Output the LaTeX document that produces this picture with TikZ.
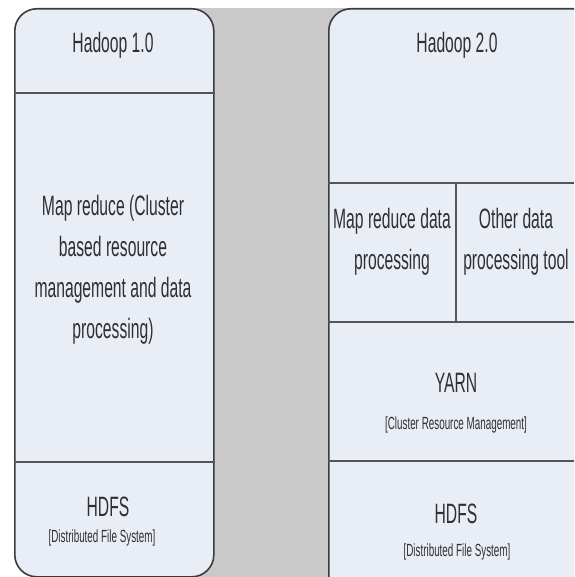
\documentclass[tikz,border=0pt]{standalone}
\usepackage{fontspec}
\setmainfont[FakeStretch=0.56]{Liberation Sans}
\usetikzlibrary{positioning, calc}
\definecolor{cpanel}{HTML}{E9EEF6}
\definecolor{cgap}{HTML}{C9C9C9}
\definecolor{cline}{HTML}{3C3C3C}
\definecolor{csep}{HTML}{555555}
\definecolor{ctext}{HTML}{303030}
\tikzset{
  every picture/.style={x=1pt, y=-1pt},
  frame/.style={draw=cline, fill=cpanel, rounded corners=22pt, line width=1.6pt, anchor=north west, inner sep=0pt},
  sep/.style={draw=csep, line width=2.4pt},
  label/.style={text=ctext, align=center, inner sep=0pt, font=\fontsize{28}{41}\selectfont},
  sub/.style={text=ctext, align=center, inner sep=0pt, font=\fontsize{17.6}{20}\selectfont},
}
\begin{document}
\begin{tikzpicture}
  \clip (0,0) rectangle (574,577);
  \fill[white] (0,0) rectangle (574,577);
  \fill[cgap] (150,8) rectangle (400,577);
  % the two versions
  \node[frame, minimum width=199pt, minimum height=568pt] (v1) at (14,8) {};
  \node[frame, minimum width=300pt, minimum height=620pt] (v2) at (328,8) {};
  % Hadoop 1.0 layers
  \draw[sep] (v1.west |- 0,93) -- (v1.east |- 0,93);
  \draw[sep] (v1.west |- 0,462) -- (v1.east |- 0,462);
  \node[label] (t1) at (113,45) {Hadoop 1.0};
  \node[label] (mr1) at (113,270) {Map reduce (Cluster\\based resource\\management and data\\processing)};
  \node[label] (hdfs1) at (108,507) {HDFS};
  \node[sub] (dfs1) at (102,538) {[Distributed File System]};
  % Hadoop 2.0 layers
  \coordinate (top) at (456,183);
  \coordinate (mid) at (456,322);
  \draw[sep] (v2.west |- top) -- (574,183);
  \draw[sep] (v2.west |- mid) -- (574,322);
  \draw[sep] (v2.west |- 0,461) -- (574,461);
  \draw[sep] (top) -- (mid);
  \node[label] (t2) at (457,45) {Hadoop 2.0};
  \node[label] (mr2) at (392,242) {Map reduce data\\processing};
  \node[label] (other) at (516,242) {Other data\\processing tool};
  \node[label] (yarn) at (456,383) {YARN};
  \node[sub] (crm) at (456,425) {[Cluster Resource Management]};
  \node[label] (hdfs2) at (456,514) {HDFS};
  \node[sub] (dfs2) at (457,552) {[Distributed File System]};
\end{tikzpicture}
\end{document}
